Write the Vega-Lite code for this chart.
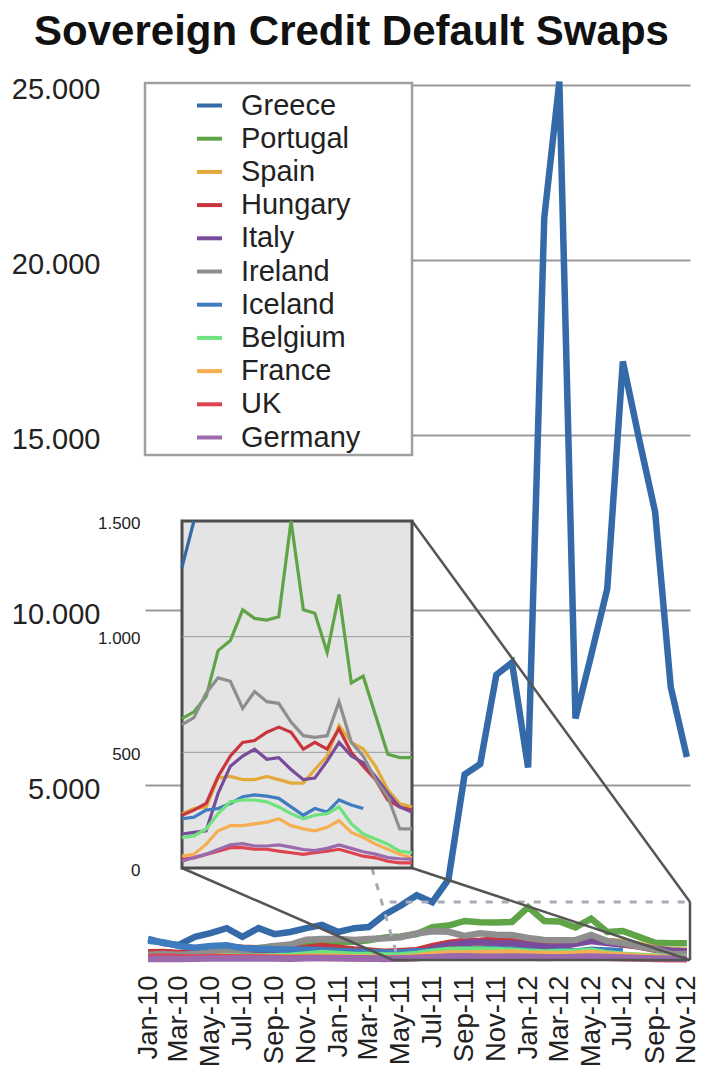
{
"$schema": "https://vega.github.io/schema/vega-lite/v6.json",
"autosize": {"type": "none"},
"width": 545, "height": 875,
"padding": {"left": 145, "top": 85, "right": 13, "bottom": 113},
"background": "white",
"title": {"text": "Sovereign Credit Default Swaps", "font": "Liberation Sans", "fontSize": 42, "fontWeight": "bold", "color": "#111111", "anchor": "middle", "frame": "group", "dx": -66, "dy": 47, "baseline": "alphabetic", "offset": 29},
"config": {"view": {"stroke": null}, "font": "Liberation Sans", "axis": {"labelFont": "Liberation Sans", "labelColor": "#222222", "ticks": false, "domain": false}},
"datasets": {"cds": [
{"m":"2010-01","c":"Greece","v":600},{"m":"2010-02","c":"Greece","v":480},{"m":"2010-03","c":"Greece","v":430},{"m":"2010-04","c":"Greece","v":660},{"m":"2010-05","c":"Greece","v":770},{"m":"2010-06","c":"Greece","v":910},{"m":"2010-07","c":"Greece","v":660},{"m":"2010-08","c":"Greece","v":910},{"m":"2010-09","c":"Greece","v":740},{"m":"2010-10","c":"Greece","v":800},{"m":"2010-11","c":"Greece","v":910},{"m":"2010-12","c":"Greece","v":1000},{"m":"2011-01","c":"Greece","v":800},{"m":"2011-02","c":"Greece","v":910},{"m":"2011-03","c":"Greece","v":940},{"m":"2011-04","c":"Greece","v":1300},{"m":"2011-05","c":"Greece","v":1550},{"m":"2011-06","c":"Greece","v":1850},{"m":"2011-07","c":"Greece","v":1650},{"m":"2011-08","c":"Greece","v":2300},{"m":"2011-09","c":"Greece","v":5300},{"m":"2011-10","c":"Greece","v":5600},{"m":"2011-11","c":"Greece","v":8150},{"m":"2011-12","c":"Greece","v":8500},{"m":"2012-01","c":"Greece","v":5500},{"m":"2012-02","c":"Greece","v":21200},{"m":"2012-03","c":"Greece","v":25100},{"m":"2012-04","c":"Greece","v":6900},{"m":"2012-05","c":"Greece","v":8700},{"m":"2012-06","c":"Greece","v":10600},{"m":"2012-07","c":"Greece","v":17100},{"m":"2012-08","c":"Greece","v":14900},{"m":"2012-09","c":"Greece","v":12800},{"m":"2012-10","c":"Greece","v":7800},{"m":"2012-11","c":"Greece","v":5800},
{"m":"2010-01","c":"Portugal","v":200},{"m":"2010-02","c":"Portugal","v":220},{"m":"2010-03","c":"Portugal","v":170},{"m":"2010-04","c":"Portugal","v":300},{"m":"2010-05","c":"Portugal","v":320},{"m":"2010-06","c":"Portugal","v":330},{"m":"2010-07","c":"Portugal","v":300},{"m":"2010-08","c":"Portugal","v":340},{"m":"2010-09","c":"Portugal","v":390},{"m":"2010-10","c":"Portugal","v":400},{"m":"2010-11","c":"Portugal","v":460},{"m":"2010-12","c":"Portugal","v":500},{"m":"2011-01","c":"Portugal","v":520},{"m":"2011-02","c":"Portugal","v":520},{"m":"2011-03","c":"Portugal","v":560},{"m":"2011-04","c":"Portugal","v":646},{"m":"2011-05","c":"Portugal","v":675},{"m":"2011-06","c":"Portugal","v":741},{"m":"2011-07","c":"Portugal","v":940},{"m":"2011-08","c":"Portugal","v":983},{"m":"2011-09","c":"Portugal","v":1116},{"m":"2011-10","c":"Portugal","v":1079},{"m":"2011-11","c":"Portugal","v":1072},{"m":"2011-12","c":"Portugal","v":1086},{"m":"2012-01","c":"Portugal","v":1512},{"m":"2012-02","c":"Portugal","v":1116},{"m":"2012-03","c":"Portugal","v":1101},{"m":"2012-04","c":"Portugal","v":932},{"m":"2012-05","c":"Portugal","v":1182},{"m":"2012-06","c":"Portugal","v":800},{"m":"2012-07","c":"Portugal","v":829},{"m":"2012-08","c":"Portugal","v":660},{"m":"2012-09","c":"Portugal","v":492},{"m":"2012-10","c":"Portugal","v":477},{"m":"2012-11","c":"Portugal","v":477},
{"m":"2010-01","c":"Spain","v":100},{"m":"2010-02","c":"Spain","v":120},{"m":"2010-03","c":"Spain","v":110},{"m":"2010-04","c":"Spain","v":160},{"m":"2010-05","c":"Spain","v":200},{"m":"2010-06","c":"Spain","v":250},{"m":"2010-07","c":"Spain","v":200},{"m":"2010-08","c":"Spain","v":230},{"m":"2010-09","c":"Spain","v":230},{"m":"2010-10","c":"Spain","v":210},{"m":"2010-11","c":"Spain","v":300},{"m":"2010-12","c":"Spain","v":340},{"m":"2011-01","c":"Spain","v":300},{"m":"2011-02","c":"Spain","v":250},{"m":"2011-03","c":"Spain","v":240},{"m":"2011-04","c":"Spain","v":235},{"m":"2011-05","c":"Spain","v":257},{"m":"2011-06","c":"Spain","v":264},{"m":"2011-07","c":"Spain","v":389},{"m":"2011-08","c":"Spain","v":396},{"m":"2011-09","c":"Spain","v":382},{"m":"2011-10","c":"Spain","v":382},{"m":"2011-11","c":"Spain","v":396},{"m":"2011-12","c":"Spain","v":382},{"m":"2012-01","c":"Spain","v":367},{"m":"2012-02","c":"Spain","v":367},{"m":"2012-03","c":"Spain","v":426},{"m":"2012-04","c":"Spain","v":484},{"m":"2012-05","c":"Spain","v":616},{"m":"2012-06","c":"Spain","v":543},{"m":"2012-07","c":"Spain","v":514},{"m":"2012-08","c":"Spain","v":440},{"m":"2012-09","c":"Spain","v":338},{"m":"2012-10","c":"Spain","v":279},{"m":"2012-11","c":"Spain","v":264},
{"m":"2010-01","c":"Hungary","v":220},{"m":"2010-02","c":"Hungary","v":230},{"m":"2010-03","c":"Hungary","v":200},{"m":"2010-04","c":"Hungary","v":230},{"m":"2010-05","c":"Hungary","v":300},{"m":"2010-06","c":"Hungary","v":380},{"m":"2010-07","c":"Hungary","v":350},{"m":"2010-08","c":"Hungary","v":330},{"m":"2010-09","c":"Hungary","v":320},{"m":"2010-10","c":"Hungary","v":300},{"m":"2010-11","c":"Hungary","v":350},{"m":"2010-12","c":"Hungary","v":400},{"m":"2011-01","c":"Hungary","v":350},{"m":"2011-02","c":"Hungary","v":300},{"m":"2011-03","c":"Hungary","v":270},{"m":"2011-04","c":"Hungary","v":228},{"m":"2011-05","c":"Hungary","v":250},{"m":"2011-06","c":"Hungary","v":279},{"m":"2011-07","c":"Hungary","v":396},{"m":"2011-08","c":"Hungary","v":484},{"m":"2011-09","c":"Hungary","v":543},{"m":"2011-10","c":"Hungary","v":551},{"m":"2011-11","c":"Hungary","v":587},{"m":"2011-12","c":"Hungary","v":609},{"m":"2012-01","c":"Hungary","v":587},{"m":"2012-02","c":"Hungary","v":514},{"m":"2012-03","c":"Hungary","v":543},{"m":"2012-04","c":"Hungary","v":514},{"m":"2012-05","c":"Hungary","v":602},{"m":"2012-06","c":"Hungary","v":499},{"m":"2012-07","c":"Hungary","v":440},{"m":"2012-08","c":"Hungary","v":382},{"m":"2012-09","c":"Hungary","v":294},{"m":"2012-10","c":"Hungary","v":264},{"m":"2012-11","c":"Hungary","v":250},
{"m":"2010-01","c":"Italy","v":90},{"m":"2010-02","c":"Italy","v":110},{"m":"2010-03","c":"Italy","v":100},{"m":"2010-04","c":"Italy","v":130},{"m":"2010-05","c":"Italy","v":170},{"m":"2010-06","c":"Italy","v":200},{"m":"2010-07","c":"Italy","v":170},{"m":"2010-08","c":"Italy","v":180},{"m":"2010-09","c":"Italy","v":170},{"m":"2010-10","c":"Italy","v":150},{"m":"2010-11","c":"Italy","v":200},{"m":"2010-12","c":"Italy","v":220},{"m":"2011-01","c":"Italy","v":200},{"m":"2011-02","c":"Italy","v":160},{"m":"2011-03","c":"Italy","v":150},{"m":"2011-04","c":"Italy","v":147},{"m":"2011-05","c":"Italy","v":154},{"m":"2011-06","c":"Italy","v":161},{"m":"2011-07","c":"Italy","v":323},{"m":"2011-08","c":"Italy","v":440},{"m":"2011-09","c":"Italy","v":484},{"m":"2011-10","c":"Italy","v":514},{"m":"2011-11","c":"Italy","v":470},{"m":"2011-12","c":"Italy","v":477},{"m":"2012-01","c":"Italy","v":426},{"m":"2012-02","c":"Italy","v":382},{"m":"2012-03","c":"Italy","v":389},{"m":"2012-04","c":"Italy","v":462},{"m":"2012-05","c":"Italy","v":543},{"m":"2012-06","c":"Italy","v":484},{"m":"2012-07","c":"Italy","v":455},{"m":"2012-08","c":"Italy","v":396},{"m":"2012-09","c":"Italy","v":323},{"m":"2012-10","c":"Italy","v":264},{"m":"2012-11","c":"Italy","v":242},
{"m":"2010-01","c":"Ireland","v":150},{"m":"2010-02","c":"Ireland","v":170},{"m":"2010-03","c":"Ireland","v":150},{"m":"2010-04","c":"Ireland","v":170},{"m":"2010-05","c":"Ireland","v":220},{"m":"2010-06","c":"Ireland","v":270},{"m":"2010-07","c":"Ireland","v":280},{"m":"2010-08","c":"Ireland","v":320},{"m":"2010-09","c":"Ireland","v":400},{"m":"2010-10","c":"Ireland","v":440},{"m":"2010-11","c":"Ireland","v":580},{"m":"2010-12","c":"Ireland","v":600},{"m":"2011-01","c":"Ireland","v":600},{"m":"2011-02","c":"Ireland","v":570},{"m":"2011-03","c":"Ireland","v":600},{"m":"2011-04","c":"Ireland","v":620},{"m":"2011-05","c":"Ireland","v":650},{"m":"2011-06","c":"Ireland","v":756},{"m":"2011-07","c":"Ireland","v":822},{"m":"2011-08","c":"Ireland","v":807},{"m":"2011-09","c":"Ireland","v":690},{"m":"2011-10","c":"Ireland","v":763},{"m":"2011-11","c":"Ireland","v":719},{"m":"2011-12","c":"Ireland","v":712},{"m":"2012-01","c":"Ireland","v":631},{"m":"2012-02","c":"Ireland","v":572},{"m":"2012-03","c":"Ireland","v":565},{"m":"2012-04","c":"Ireland","v":572},{"m":"2012-05","c":"Ireland","v":719},{"m":"2012-06","c":"Ireland","v":543},{"m":"2012-07","c":"Ireland","v":484},{"m":"2012-08","c":"Ireland","v":382},{"m":"2012-09","c":"Ireland","v":308},{"m":"2012-10","c":"Ireland","v":169},{"m":"2012-11","c":"Ireland","v":169},
{"m":"2010-01","c":"Iceland","v":550},{"m":"2010-02","c":"Iceland","v":500},{"m":"2010-03","c":"Iceland","v":400},{"m":"2010-04","c":"Iceland","v":350},{"m":"2010-05","c":"Iceland","v":400},{"m":"2010-06","c":"Iceland","v":420},{"m":"2010-07","c":"Iceland","v":340},{"m":"2010-08","c":"Iceland","v":320},{"m":"2010-09","c":"Iceland","v":310},{"m":"2010-10","c":"Iceland","v":290},{"m":"2010-11","c":"Iceland","v":300},{"m":"2010-12","c":"Iceland","v":280},{"m":"2011-01","c":"Iceland","v":260},{"m":"2011-02","c":"Iceland","v":240},{"m":"2011-03","c":"Iceland","v":230},{"m":"2011-04","c":"Iceland","v":213},{"m":"2011-05","c":"Iceland","v":220},{"m":"2011-06","c":"Iceland","v":250},{"m":"2011-07","c":"Iceland","v":257},{"m":"2011-08","c":"Iceland","v":279},{"m":"2011-09","c":"Iceland","v":308},{"m":"2011-10","c":"Iceland","v":316},{"m":"2011-11","c":"Iceland","v":311},{"m":"2011-12","c":"Iceland","v":301},{"m":"2012-01","c":"Iceland","v":264},{"m":"2012-02","c":"Iceland","v":228},{"m":"2012-03","c":"Iceland","v":257},{"m":"2012-04","c":"Iceland","v":242},{"m":"2012-05","c":"Iceland","v":294},{"m":"2012-06","c":"Iceland","v":272},{"m":"2012-07","c":"Iceland","v":257},
{"m":"2010-01","c":"Belgium","v":50},{"m":"2010-02","c":"Belgium","v":55},{"m":"2010-03","c":"Belgium","v":50},{"m":"2010-04","c":"Belgium","v":60},{"m":"2010-05","c":"Belgium","v":80},{"m":"2010-06","c":"Belgium","v":100},{"m":"2010-07","c":"Belgium","v":90},{"m":"2010-08","c":"Belgium","v":100},{"m":"2010-09","c":"Belgium","v":110},{"m":"2010-10","c":"Belgium","v":120},{"m":"2010-11","c":"Belgium","v":160},{"m":"2010-12","c":"Belgium","v":200},{"m":"2011-01","c":"Belgium","v":170},{"m":"2011-02","c":"Belgium","v":140},{"m":"2011-03","c":"Belgium","v":140},{"m":"2011-04","c":"Belgium","v":132},{"m":"2011-05","c":"Belgium","v":139},{"m":"2011-06","c":"Belgium","v":169},{"m":"2011-07","c":"Belgium","v":235},{"m":"2011-08","c":"Belgium","v":286},{"m":"2011-09","c":"Belgium","v":294},{"m":"2011-10","c":"Belgium","v":294},{"m":"2011-11","c":"Belgium","v":286},{"m":"2011-12","c":"Belgium","v":264},{"m":"2012-01","c":"Belgium","v":235},{"m":"2012-02","c":"Belgium","v":213},{"m":"2012-03","c":"Belgium","v":228},{"m":"2012-04","c":"Belgium","v":235},{"m":"2012-05","c":"Belgium","v":264},{"m":"2012-06","c":"Belgium","v":191},{"m":"2012-07","c":"Belgium","v":147},{"m":"2012-08","c":"Belgium","v":125},{"m":"2012-09","c":"Belgium","v":103},{"m":"2012-10","c":"Belgium","v":73},{"m":"2012-11","c":"Belgium","v":66},
{"m":"2010-01","c":"France","v":55},{"m":"2010-02","c":"France","v":60},{"m":"2010-03","c":"France","v":55},{"m":"2010-04","c":"France","v":65},{"m":"2010-05","c":"France","v":80},{"m":"2010-06","c":"France","v":90},{"m":"2010-07","c":"France","v":80},{"m":"2010-08","c":"France","v":80},{"m":"2010-09","c":"France","v":80},{"m":"2010-10","c":"France","v":75},{"m":"2010-11","c":"France","v":95},{"m":"2010-12","c":"France","v":100},{"m":"2011-01","c":"France","v":90},{"m":"2011-02","c":"France","v":75},{"m":"2011-03","c":"France","v":70},{"m":"2011-04","c":"France","v":51},{"m":"2011-05","c":"France","v":59},{"m":"2011-06","c":"France","v":103},{"m":"2011-07","c":"France","v":161},{"m":"2011-08","c":"France","v":183},{"m":"2011-09","c":"France","v":183},{"m":"2011-10","c":"France","v":191},{"m":"2011-11","c":"France","v":198},{"m":"2011-12","c":"France","v":213},{"m":"2012-01","c":"France","v":183},{"m":"2012-02","c":"France","v":169},{"m":"2012-03","c":"France","v":161},{"m":"2012-04","c":"France","v":176},{"m":"2012-05","c":"France","v":205},{"m":"2012-06","c":"France","v":154},{"m":"2012-07","c":"France","v":132},{"m":"2012-08","c":"France","v":103},{"m":"2012-09","c":"France","v":81},{"m":"2012-10","c":"France","v":59},{"m":"2012-11","c":"France","v":44},
{"m":"2010-01","c":"UK","v":80},{"m":"2010-02","c":"UK","v":90},{"m":"2010-03","c":"UK","v":80},{"m":"2010-04","c":"UK","v":75},{"m":"2010-05","c":"UK","v":85},{"m":"2010-06","c":"UK","v":80},{"m":"2010-07","c":"UK","v":70},{"m":"2010-08","c":"UK","v":70},{"m":"2010-09","c":"UK","v":65},{"m":"2010-10","c":"UK","v":60},{"m":"2010-11","c":"UK","v":65},{"m":"2010-12","c":"UK","v":60},{"m":"2011-01","c":"UK","v":55},{"m":"2011-02","c":"UK","v":50},{"m":"2011-03","c":"UK","v":45},{"m":"2011-04","c":"UK","v":37},{"m":"2011-05","c":"UK","v":44},{"m":"2011-06","c":"UK","v":59},{"m":"2011-07","c":"UK","v":73},{"m":"2011-08","c":"UK","v":88},{"m":"2011-09","c":"UK","v":88},{"m":"2011-10","c":"UK","v":81},{"m":"2011-11","c":"UK","v":81},{"m":"2011-12","c":"UK","v":73},{"m":"2012-01","c":"UK","v":66},{"m":"2012-02","c":"UK","v":59},{"m":"2012-03","c":"UK","v":66},{"m":"2012-04","c":"UK","v":73},{"m":"2012-05","c":"UK","v":81},{"m":"2012-06","c":"UK","v":66},{"m":"2012-07","c":"UK","v":51},{"m":"2012-08","c":"UK","v":44},{"m":"2012-09","c":"UK","v":29},{"m":"2012-10","c":"UK","v":22},{"m":"2012-11","c":"UK","v":22},
{"m":"2010-01","c":"Germany","v":30},{"m":"2010-02","c":"Germany","v":35},{"m":"2010-03","c":"Germany","v":30},{"m":"2010-04","c":"Germany","v":35},{"m":"2010-05","c":"Germany","v":45},{"m":"2010-06","c":"Germany","v":45},{"m":"2010-07","c":"Germany","v":40},{"m":"2010-08","c":"Germany","v":40},{"m":"2010-09","c":"Germany","v":40},{"m":"2010-10","c":"Germany","v":35},{"m":"2010-11","c":"Germany","v":50},{"m":"2010-12","c":"Germany","v":55},{"m":"2011-01","c":"Germany","v":50},{"m":"2011-02","c":"Germany","v":45},{"m":"2011-03","c":"Germany","v":40},{"m":"2011-04","c":"Germany","v":29},{"m":"2011-05","c":"Germany","v":45},{"m":"2011-06","c":"Germany","v":60},{"m":"2011-07","c":"Germany","v":80},{"m":"2011-08","c":"Germany","v":100},{"m":"2011-09","c":"Germany","v":105},{"m":"2011-10","c":"Germany","v":95},{"m":"2011-11","c":"Germany","v":95},{"m":"2011-12","c":"Germany","v":100},{"m":"2012-01","c":"Germany","v":90},{"m":"2012-02","c":"Germany","v":80},{"m":"2012-03","c":"Germany","v":75},{"m":"2012-04","c":"Germany","v":85},{"m":"2012-05","c":"Germany","v":100},{"m":"2012-06","c":"Germany","v":85},{"m":"2012-07","c":"Germany","v":70},{"m":"2012-08","c":"Germany","v":60},{"m":"2012-09","c":"Germany","v":45},{"m":"2012-10","c":"Germany","v":40},{"m":"2012-11","c":"Germany","v":38}
]},
"layer": [
  {"data": {"name": "cds"}, "mark": {"type": "line", "strokeWidth": 6.5},
   "encoding": {
    "x": {"field": "m", "type": "temporal", "scale": {"type": "utc", "domain": [{"year":2009,"month":12,"date":26,"utc":true},{"year":2012,"month":11,"date":7,"utc":true}]},
      "axis": {"orient": "bottom", "title": null, "tickCount": {"interval": "month", "step": 2}, "labelExpr": "utcFormat(datum.value, '%b-%y')", "labelAngle": -90, "labelFontSize": 27.5, "labelPadding": 15, "grid": false, "labelOverlap": false, "labelBound": false, "labelFlush": false}},
    "y": {"field": "v", "type": "quantitative", "scale": {"domain": [0, 25000], "nice": false},
      "axis": {"orient": "left", "title": null, "values": [5000, 10000, 15000, 20000, 25000], "labelExpr": "replace(format(datum.value, ','), ',', '.')", "labelFontSize": 29, "labelPadding": 45, "labelOffset": 4, "grid": true, "gridColor": "#9a9a9a", "gridWidth": 2}},
    "color": {"field": "c", "type": "nominal",
      "scale": {"domain": ["Greece","Portugal","Spain","Hungary","Italy","Ireland","Iceland","Belgium","France","UK","Germany"], "range": ["#346aa8","#5fa447","#e3a93b","#c8353c","#7a4b9a","#8e8e8e","#3f7cc0","#6ee27c","#f5ae52","#de4450","#9b6aad"]},
      "legend": {"orient": "none", "legendX": 50, "legendY": 6, "title": null, "symbolType": "stroke", "symbolSize": 625, "symbolStrokeWidth": 4, "labelFont": "Liberation Sans", "labelFontSize": 29, "labelColor": "#222222", "labelOffset": 17, "rowPadding": 3.2, "padding": 0, "labelLimit": 300}}
   }},
  {"data": {"values": [{}]}, "mark": {"type": "rule", "stroke": "#a9a9b8", "strokeWidth": 3, "strokeDash": [7, 9]},
   "encoding": {"x": {"datum": {"year":2011,"month":4,"date":10,"utc":true}, "type": "temporal", "scale": {"type": "utc", "domain": [{"year":2009,"month":12,"date":26,"utc":true},{"year":2012,"month":11,"date":7,"utc":true}]}, "axis": null}, "x2": {"datum": {"year":2012,"month":11,"date":7,"utc":true}}, "y": {"datum": 1657, "type": "quantitative", "scale": {"domain": [0, 25000], "nice": false}, "axis": null}}},
  {"data": {"values": [{}]}, "mark": {"type": "rule", "stroke": "#a9a9b8", "strokeWidth": 3, "strokeDash": [7, 9]},
   "encoding": {"x": {"datum": {"year":2011,"month":3,"date":7,"utc":true}, "type": "temporal", "scale": {"type": "utc", "domain": [{"year":2009,"month":12,"date":26,"utc":true},{"year":2012,"month":11,"date":7,"utc":true}]}, "axis": null}, "x2": {"datum": {"year":2011,"month":4,"date":24,"utc":true}}, "y": {"datum": 2629, "type": "quantitative", "scale": {"domain": [0, 25000], "nice": false}, "axis": null}, "y2": {"datum": 143}}},
  {"data": {"values": [{}]}, "mark": {"type": "rule", "stroke": "#555555", "strokeWidth": 2.5},
   "encoding": {"x": {"datum": {"year":2011,"month":5,"date":23,"utc":true}, "type": "temporal", "scale": {"type": "utc", "domain": [{"year":2009,"month":12,"date":26,"utc":true},{"year":2012,"month":11,"date":7,"utc":true}]}, "axis": null}, "x2": {"datum": {"year":2012,"month":11,"date":7,"utc":true}}, "y": {"datum": 12543, "type": "quantitative", "scale": {"domain": [0, 25000], "nice": false}, "axis": null}, "y2": {"datum": 1657}}},
  {"data": {"values": [{}]}, "mark": {"type": "rule", "stroke": "#555555", "strokeWidth": 2.5},
   "encoding": {"x": {"datum": {"year":2011,"month":5,"date":23,"utc":true}, "type": "temporal", "scale": {"type": "utc", "domain": [{"year":2009,"month":12,"date":26,"utc":true},{"year":2012,"month":11,"date":7,"utc":true}]}, "axis": null}, "x2": {"datum": {"year":2012,"month":11,"date":7,"utc":true}}, "y": {"datum": 2629, "type": "quantitative", "scale": {"domain": [0, 25000], "nice": false}, "axis": null}, "y2": {"datum": 0}}},
  {"data": {"values": [{}]}, "mark": {"type": "rule", "stroke": "#555555", "strokeWidth": 2.5},
   "encoding": {"x": {"datum": {"year":2010,"month":3,"date":7,"utc":true}, "type": "temporal", "scale": {"type": "utc", "domain": [{"year":2009,"month":12,"date":26,"utc":true},{"year":2012,"month":11,"date":7,"utc":true}]}, "axis": null}, "x2": {"datum": {"year":2011,"month":4,"date":16,"utc":true}}, "y": {"datum": 2629, "type": "quantitative", "scale": {"domain": [0, 25000], "nice": false}, "axis": null}, "y2": {"datum": 0}}},
  {"data": {"values": [{}]}, "mark": {"type": "rule", "stroke": "#555555", "strokeWidth": 2.5},
   "encoding": {"x": {"datum": {"year":2012,"month":11,"date":7,"utc":true}, "type": "temporal", "scale": {"type": "utc", "domain": [{"year":2009,"month":12,"date":26,"utc":true},{"year":2012,"month":11,"date":7,"utc":true}]}, "axis": null}, "y": {"datum": 0, "type": "quantitative", "scale": {"domain": [0, 25000], "nice": false}, "axis": null}, "y2": {"datum": 1657}}},
  {"data": {"values": [{}]}, "mark": {"type": "rule", "stroke": "#555555", "strokeWidth": 2.5},
   "encoding": {"x": {"datum": {"year":2011,"month":4,"date":16,"utc":true}, "type": "temporal", "scale": {"type": "utc", "domain": [{"year":2009,"month":12,"date":26,"utc":true},{"year":2012,"month":11,"date":7,"utc":true}]}, "axis": null}, "x2": {"datum": {"year":2012,"month":11,"date":7,"utc":true}}, "y": {"datum": 0, "type": "quantitative", "scale": {"domain": [0, 25000], "nice": false}, "axis": null}}},
  {"data": {"values": [{}]}, "mark": {"type": "rect", "fill": "white", "stroke": "#a0a0a0", "strokeWidth": 2.5},
   "encoding": {"x": {"datum": {"year":2009,"month":12,"date":26,"utc":true}, "type": "temporal", "scale": {"type": "utc", "domain": [{"year":2009,"month":12,"date":26,"utc":true},{"year":2012,"month":11,"date":7,"utc":true}]}, "axis": null}, "x2": {"datum": {"year":2011,"month":5,"date":23,"utc":true}}, "y": {"datum": 14430, "type": "quantitative", "scale": {"domain": [0, 25000], "nice": false}, "axis": null}, "y2": {"datum": 25060}}},
  {"data": {"values": [{}]}, "mark": {"type": "rect", "fill": "#e4e4e4", "stroke": "#4d4d4d", "strokeWidth": 3},
   "encoding": {
    "x": {"datum": {"year":2011,"month":4,"date":1,"utc":true}, "type": "temporal", "scale": {"type": "utc", "domain": [{"year":2011,"month":4,"date":1,"utc":true},{"year":2012,"month":11,"date":1,"utc":true}], "range": [37, 267]}, "axis": null},
    "x2": {"datum": {"year":2012,"month":11,"date":1,"utc":true}},
    "y": {"datum": 0, "type": "quantitative", "scale": {"domain": [0, 1500], "range": [783, 436], "nice": false, "zero": false},
      "axis": {"orient": "left", "title": null, "values": [0, 500, 1000, 1500], "labelExpr": "replace(format(datum.value, ','), ',', '.')", "labelFontSize": 17, "labelPadding": 5, "labelOffset": 2, "grid": false}},
    "y2": {"datum": 1500}}},
  {"data": {"values": [{}]}, "mark": {"type": "rule", "stroke": "#9a9a9a", "strokeWidth": 1},
   "encoding": {"x": {"datum": {"year":2011,"month":4,"date":1,"utc":true}, "type": "temporal", "scale": {"type": "utc", "domain": [{"year":2011,"month":4,"date":1,"utc":true},{"year":2012,"month":11,"date":1,"utc":true}], "range": [37, 267]}, "axis": null}, "x2": {"datum": {"year":2012,"month":11,"date":1,"utc":true}}, "y": {"datum": 500, "type": "quantitative", "scale": {"domain": [0, 1500], "range": [783, 436], "nice": false, "zero": false}, "axis": null}}},
  {"data": {"values": [{}]}, "mark": {"type": "rule", "stroke": "#9a9a9a", "strokeWidth": 1},
   "encoding": {"x": {"datum": {"year":2011,"month":4,"date":1,"utc":true}, "type": "temporal", "scale": {"type": "utc", "domain": [{"year":2011,"month":4,"date":1,"utc":true},{"year":2012,"month":11,"date":1,"utc":true}], "range": [37, 267]}, "axis": null}, "x2": {"datum": {"year":2012,"month":11,"date":1,"utc":true}}, "y": {"datum": 1000, "type": "quantitative", "scale": {"domain": [0, 1500], "range": [783, 436], "nice": false, "zero": false}, "axis": null}}},
  {"data": {"name": "cds"},
   "transform": [{"filter": "toDate(datum.m) >= utc(2011,3,1) && (datum.c != 'Greece' || toDate(datum.m) <= utc(2011,4,1))"}],
   "mark": {"type": "line", "strokeWidth": 3.2},
   "encoding": {
    "x": {"field": "m", "type": "temporal", "scale": {"type": "utc", "domain": [{"year":2011,"month":4,"date":1,"utc":true},{"year":2012,"month":11,"date":1,"utc":true}], "range": [37, 267]}, "axis": null},
    "y": {"field": "v", "type": "quantitative", "scale": {"domain": [0, 1500], "range": [783, 436], "nice": false, "zero": false, "clamp": true}, "axis": null},
    "color": {"field": "c", "type": "nominal", "legend": null}
   }}
],
"resolve": {"scale": {"x": "independent", "y": "independent"}}
}
